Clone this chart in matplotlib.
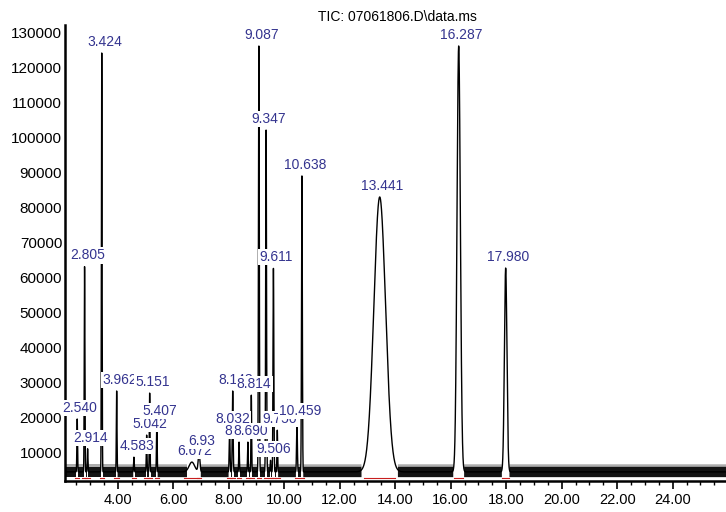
import numpy as np
import matplotlib
matplotlib.use("Agg")
import matplotlib.pyplot as plt
from matplotlib.ticker import MultipleLocator, FixedLocator

# ---------------- data ----------------
title = "TIC: 07061806.D\\data.ms"

peak_rt = [2.540, 2.805, 2.914, 3.424, 3.962, 4.583, 5.042, 5.151, 5.407,
           6.672, 6.93, 8.032, 8.143, 8.372, 8.690, 8.814, 9.087, 9.347,
           9.506, 9.611, 9.750, 10.459, 10.638, 13.441, 16.287, 17.980]
peak_top = [19500, 63000, 11000, 124000, 27500, 8600, 14900, 26900, 18600,
            7200, 10000, 16300, 27500, 12900, 12900, 26300, 126000, 102000,
            7700, 62500, 16300, 18600, 88900, 82900, 126000, 62600]
peak_sigma = [0.012, 0.012, 0.012, 0.012, 0.012, 0.012, 0.012, 0.012, 0.012,
              0.10, 0.03, 0.015, 0.015, 0.012, 0.012, 0.012, 0.015, 0.015,
              0.012, 0.015, 0.012, 0.015, 0.015, 0.21, 0.06, 0.045]
peak_label = ["2.540", "2.805", "2.914", "3.424", "3.962", "4.583", "5.042",
              "5.151", "5.407", "6.672", "6.93", "8.032", "8.143", "8.372",
              "8.690", "8.814", "9.087", "9.347", "9.506", "9.611", "9.750",
              "10.459", "10.638", "13.441", "16.287", "17.980"]

baseline_level = 4400
noise_amp = 1500

x_ticks = [4, 6, 8, 10, 12, 14, 16, 18, 20, 22, 24]
x_tick_labels = ["4.00", "6.00", "8.00", "10.00", "12.00", "14.00", "16.00",
                 "18.00", "20.00", "22.00", "24.00"]
y_ticks = [10000, 20000, 30000, 40000, 50000, 60000, 70000, 80000, 90000,
           100000, 110000, 120000, 130000]

# ---------------- figure ----------------
fig = plt.figure(figsize=(7.26, 5.12), dpi=100)
ax = fig.add_axes([65 / 726, 31 / 512, 661 / 726, 456 / 512])

t = np.arange(2.0, 26.5, 0.001)
peaks = np.zeros_like(t)
for rt, top, s in zip(peak_rt, peak_top, peak_sigma):
    peaks += (top - baseline_level) * np.exp(-0.5 * ((t - rt) / s) ** 2)
trace = baseline_level + peaks

quiet = peaks < 600
# baseline noise band: dense core and a lighter fringe on top
ax.fill_between(t, baseline_level - noise_amp, baseline_level + noise_amp,
                where=quiet, color="#141414", lw=0, zorder=2)
ax.fill_between(t, baseline_level + noise_amp, baseline_level + 1.45 * noise_amp,
                where=quiet, color="#6a6a6a", alpha=0.55, lw=0, zorder=2)
ax.plot(t, trace, color="black", lw=1.0, zorder=3)

# integration baselines
for rt, s in zip(peak_rt, peak_sigma):
    hw = max(2.7 * s, 0.08)
    ax.plot([rt - hw, rt + hw], [baseline_level - noise_amp - 200] * 2,
            color="#c81e1e", lw=0.8, zorder=4)

lab_font = ["Liberation Sans", "DejaVu Sans"]
for i, (rt, top, lab) in enumerate(zip(peak_rt, peak_top, peak_label)):
    ax.annotate(lab, xy=(rt, top), xytext=(2, 3), textcoords="offset points",
                ha="center", va="bottom", color="#34348f", fontsize=10,
                family=lab_font,
                bbox=dict(boxstyle="square,pad=0.08", facecolor="white",
                          edgecolor="none"),
                zorder=10 + i, annotation_clip=False)

ax.set_xlim(2.1, 25.92)
ax.set_ylim(1800, 132000)

ax.xaxis.set_major_locator(FixedLocator(x_ticks))
ax.set_xticklabels(x_tick_labels)
ax.xaxis.set_minor_locator(MultipleLocator(0.5))
ax.yaxis.set_major_locator(FixedLocator(y_ticks))
ax.set_yticklabels([str(v) for v in y_ticks])

ax.tick_params(axis="x", which="major", length=6, width=1.2, direction="out",
               pad=3, labelsize=10.5)
ax.tick_params(axis="x", which="minor", length=3, width=1.0, direction="out")
ax.tick_params(axis="y", which="both", length=0, pad=2, labelsize=11)
for lab in ax.get_xticklabels() + ax.get_yticklabels():
    lab.set_family(lab_font)

for sp in ["top", "right"]:
    ax.spines[sp].set_visible(False)
ax.spines["left"].set_linewidth(1.8)
ax.spines["bottom"].set_linewidth(1.8)

fig.text(397 / 726, 1 - 17 / 512, title, ha="center", va="center",
         fontsize=10, family=lab_font, color="black")

fig.savefig("out.png", dpi=100)
